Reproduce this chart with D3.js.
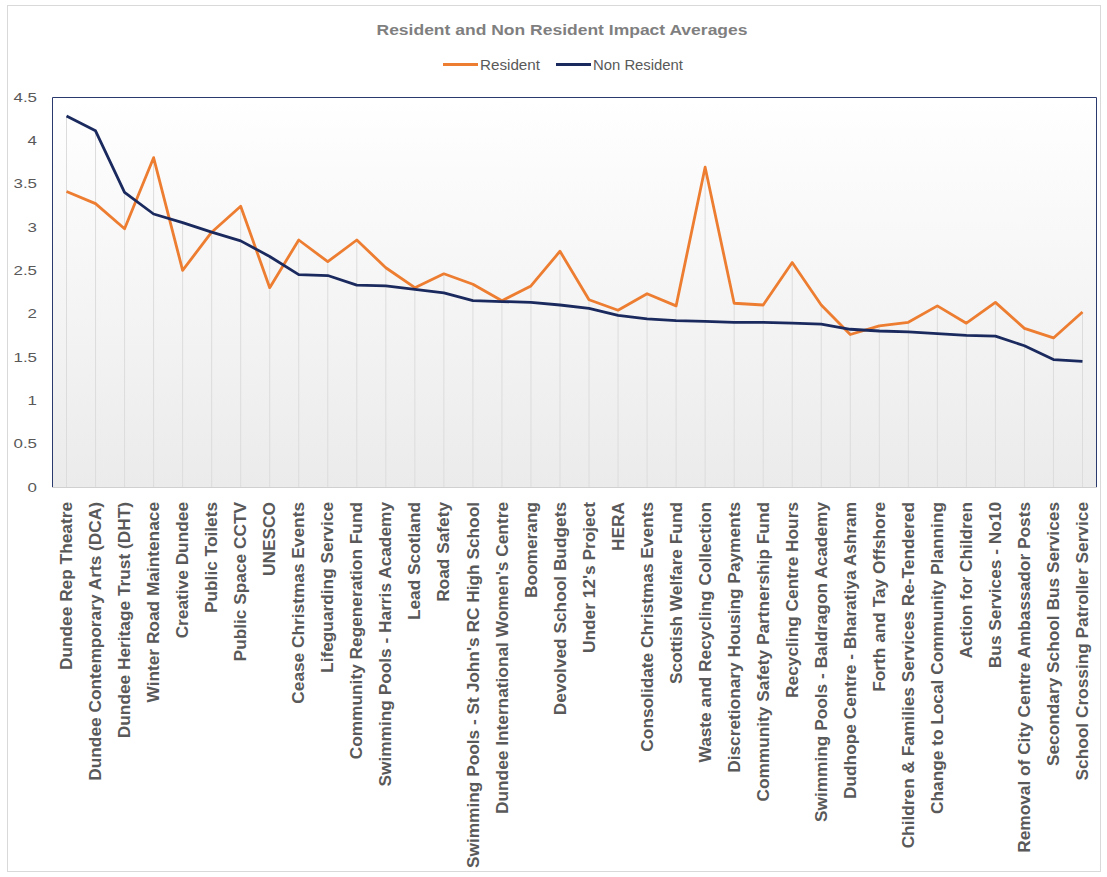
<!DOCTYPE html>
<html><head><meta charset="utf-8">
<script src="https://cdn.jsdelivr.net/npm/d3@7"></script>
<style>body{margin:0;background:#fff;font-family:"Liberation Sans",Arial,sans-serif;}</style>
</head><body><svg id="c" width="1107" height="877"></svg>
<script>
const categories = ["Dundee Rep Theatre","Dundee Contemporary Arts (DCA)","Dundee Heritage Trust (DHT)","Winter Road Maintenace","Creative Dundee","Public Toilets","Public Space CCTV","UNESCO","Cease Christmas Events","Lifeguarding Service","Community Regeneration Fund","Swimming Pools - Harris Academy","Lead Scotland","Road Safety","Swimming Pools - St John's RC High School","Dundee International Women's Centre","Boomerang","Devolved School Budgets","Under 12's Project","HERA","Consolidate Christmas Events","Scottish Welfare Fund","Waste and Recycling Collection","Discretionary Housing Payments","Community Safety Partnership Fund","Recycling Centre Hours","Swimming Pools - Baldragon Academy","Dudhope Centre - Bharatiya Ashram","Forth and Tay Offshore","Children & Families Services Re-Tendered","Change to Local Community Planning","Action for Children","Bus Services - No10","Removal of City Centre Ambassador Posts","Secondary School Bus Services","School Crossing Patroller Service"];
const resident = [3.41,3.27,2.98,3.80,2.50,2.94,3.24,2.30,2.85,2.60,2.85,2.53,2.30,2.46,2.34,2.15,2.32,2.72,2.16,2.04,2.23,2.09,3.69,2.12,2.10,2.59,2.10,1.76,1.86,1.90,2.09,1.89,2.13,1.83,1.72,2.02];
const nonResident = [4.28,4.11,3.40,3.15,3.05,2.94,2.84,2.66,2.45,2.44,2.33,2.32,2.28,2.24,2.15,2.14,2.13,2.10,2.06,1.98,1.94,1.92,1.91,1.90,1.90,1.89,1.88,1.82,1.80,1.79,1.77,1.75,1.74,1.63,1.47,1.45];
const yTicks = [0,0.5,1,1.5,2,2.5,3,3.5,4,4.5];
const seriesNames = ["Resident","Non Resident"];
const colors = ["#ED7D31","#1B2A5E"];

const svg = d3.select("#c");
const L=52,R=1097,T=97,B=487;
const defs = svg.append("defs");
const g = defs.append("linearGradient").attr("id","bg").attr("x1",0).attr("y1",0).attr("x2",0).attr("y2",1);
g.append("stop").attr("offset","0%").attr("stop-color","#ffffff");
g.append("stop").attr("offset","100%").attr("stop-color","#ebebeb");

function stretch(sel, f){
  sel.each(function(){ const w=this.getComputedTextLength(); d3.select(this).attr("textLength", w*f).attr("lengthAdjust","spacingAndGlyphs"); });
}

svg.append("rect").attr("x",7.5).attr("y",5.5).attr("width",1093).attr("height",866).attr("fill","#fff").attr("stroke","#d9d9d9");

const x = d3.scaleBand().domain(categories).range([L,R]);
const y = d3.scaleLinear().domain([0,4.5]).range([B,T]);

svg.append("rect").attr("x",L).attr("y",T).attr("width",R-L).attr("height",B-T).attr("fill","url(#bg)");

// vertical drop lines
svg.append("g").selectAll("line").data(categories).join("line")
  .attr("x1",d=>x(d)+x.bandwidth()/2).attr("x2",d=>x(d)+x.bandwidth()/2)
  .attr("y1",(d,i)=>y(Math.max(resident[i],nonResident[i]))).attr("y2",B)
  .attr("stroke","#dcdcdc").attr("stroke-width",1);

// plot border
svg.append("line").attr("x1",L).attr("x2",R).attr("y1",B+0.5).attr("y2",B+0.5).attr("stroke","#d0d0d0");
svg.append("path").attr("d",`M${L+0.5},${B}V${T+0.5}H${R-0.5}V${B}`).attr("fill","none").attr("stroke","#2a3a6e").attr("stroke-width",1);

// y axis
const ya = d3.axisLeft(y).tickValues(yTicks).tickSize(0).tickPadding(15).tickFormat(d3.format("~g"));
const yg = svg.append("g").attr("transform",`translate(${L},0)`).call(ya);
yg.select(".domain").remove();
yg.selectAll("text").attr("fill","#595959").style("font-size","13px").style("font-family","Liberation Sans, Arial, sans-serif");
stretch(yg.selectAll("text"), 1.3);

// x axis labels
const xa = d3.axisBottom(x).tickSize(0).tickPadding(0);
const xg = svg.append("g").attr("transform",`translate(0,${B})`).call(xa);
xg.select(".domain").remove();
xg.selectAll("text").attr("fill","#595959").style("font-size","16px").style("font-weight","bold")
  .style("font-family","Liberation Sans, Arial, sans-serif")
  .attr("transform","rotate(-90)").attr("text-anchor","end").attr("dy","0.35em").attr("x",-15).attr("y",0);
stretch(xg.selectAll("text"), 1.08);

// lines
const line = d3.line().x((d,i)=>x(categories[i])+x.bandwidth()/2).y(d=>y(d));
[resident,nonResident].forEach((s,k)=>{
  svg.append("path").datum(s).attr("d",line).attr("fill","none").attr("stroke",colors[k]).attr("stroke-width",2.8).attr("stroke-linejoin","round");
});

// title
const tt = svg.append("text").attr("x",562).attr("y",35).attr("text-anchor","middle").attr("fill","#7f7f7f")
  .style("font-size","14.5px").style("font-weight","bold").text("Resident and Non Resident Impact Averages");
tt.attr("textLength",371).attr("lengthAdjust","spacingAndGlyphs");

// legend
const lg = svg.append("g");
const lx = [443,556];
const lw = [60,90];
seriesNames.forEach((n,k)=>{
  lg.append("line").attr("x1",lx[k]).attr("x2",lx[k]+35).attr("y1",64.5).attr("y2",64.5).attr("stroke",colors[k]).attr("stroke-width",2.8);
  lg.append("text").attr("x",lx[k]+37).attr("y",69.5).attr("fill","#595959").style("font-size","14px").text(n)
    .attr("textLength",lw[k]).attr("lengthAdjust","spacingAndGlyphs");
});
</script></body></html>
